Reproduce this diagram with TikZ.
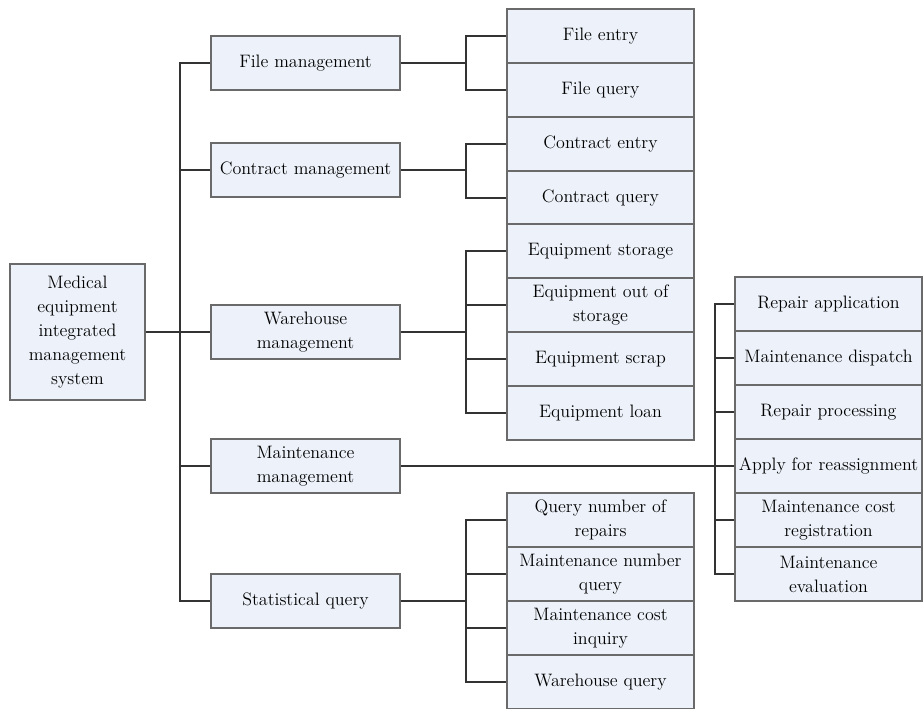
\documentclass[tikz,border=0pt]{standalone}
\definecolor{boxfill}{HTML}{EDF2FA}
\definecolor{boxdraw}{HTML}{6A6A6A}
\definecolor{linec}{HTML}{333333}
\begin{document}
\begin{tikzpicture}[x=0.75pt,y=-0.75pt,
  bx/.style={draw=boxdraw,fill=boxfill,line width=0.9pt,inner sep=0pt,align=center,
    font=\fontsize{13.5}{18}\selectfont,text=black},
  lone/.style={bx,minimum width=141.75pt,minimum height=40.5pt},
  ltwo/.style={bx,minimum width=140.25pt,minimum height=40.5pt},
  lthree/.style={bx,minimum width=140.25pt,minimum height=40.5pt},
  conn/.style={draw=linec,line width=0.8pt}]
\useasboundingbox (0,0) rectangle (923,709);
% root
\node[bx,minimum width=101.25pt,minimum height=102pt] (root) at (77.5,332) {Medical\\equipment\\integrated\\management\\system};
% level 1
\node[lone] (fm) at (305.5,63) {File management};
\node[lone] (cm) at (305.5,170) {Contract management};
\node[lone] (wm) at (305.5,332) {Warehouse\\management};
\node[lone] (mm) at (305.5,466) {Maintenance\\management};
\node[lone] (sq) at (305.5,601) {Statistical query};
% level 2
\node[ltwo] (fe) at (600.5,36) {File entry};
\node[ltwo] (fq) at (600.5,90) {File query};
\node[ltwo] (ce) at (600.5,144) {Contract entry};
\node[ltwo] (cq) at (600.5,198) {Contract query};
\node[ltwo] (es) at (600.5,251) {Equipment storage};
\node[ltwo] (eo) at (600.5,305) {Equipment out of\\storage};
\node[ltwo] (ec) at (600.5,359) {Equipment scrap};
\node[ltwo] (el) at (600.5,413) {Equipment loan};
\node[ltwo] (qn) at (600.5,520) {Query number of\\repairs};
\node[ltwo] (mn) at (600.5,574) {Maintenance number\\query};
\node[ltwo] (mc) at (600.5,628) {Maintenance cost\\inquiry};
\node[ltwo] (wq) at (600.5,682) {Warehouse query};
% level 3
\node[lthree] (ra) at (828.5,304) {Repair application};
\node[lthree] (md) at (828.5,358) {Maintenance dispatch};
\node[lthree] (rp) at (828.5,412) {Repair processing};
\node[lthree] (ar) at (828.5,466) {Apply for reassignment};
\node[lthree] (cr) at (828.5,520) {Maintenance cost\\registration};
\node[lthree] (me) at (828.5,574) {Maintenance\\evaluation};
% trunk
\coordinate (t) at (180,0);
\draw[conn] (root.east) -- (wm.west);
\draw[conn] (fm.west) -| (t |- sq.west) -- (sq.west);
\draw[conn] (cm.west) -- (t |- cm.west);
\draw[conn] (mm.west) -- (t |- mm.west);
% brackets level 2
\coordinate (b) at (466,0);
\draw[conn] (fm.east) -- (b |- fm.east);
\draw[conn] (fe.west) -| (b |- fq.west) -- (fq.west);
\draw[conn] (cm.east) -- (b |- cm.east);
\draw[conn] (ce.west) -| (b |- cq.west) -- (cq.west);
\draw[conn] (wm.east) -- (b |- wm.east);
\draw[conn] (es.west) -| (b |- el.west) -- (el.west);
\draw[conn] (eo.west) -- (b |- eo.west);
\draw[conn] (ec.west) -- (b |- ec.west);
\draw[conn] (sq.east) -- (b |- sq.east);
\draw[conn] (qn.west) -| (b |- wq.west) -- (wq.west);
\draw[conn] (mn.west) -- (b |- mn.west);
\draw[conn] (mc.west) -- (b |- mc.west);
% bracket level 3
\coordinate (c) at (715,0);
\draw[conn] (mm.east) -- (ar.west);
\draw[conn] (ra.west) -| (c |- me.west) -- (me.west);
\draw[conn] (md.west) -- (c |- md.west);
\draw[conn] (rp.west) -- (c |- rp.west);
\draw[conn] (cr.west) -- (c |- cr.west);
\end{tikzpicture}
\end{document}
